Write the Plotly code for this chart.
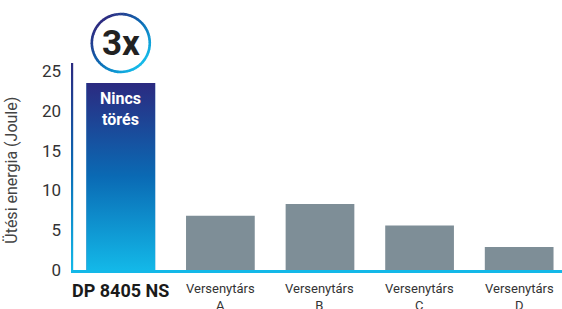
import plotly.graph_objects as go
import math

categories = ["DP 8405 NS", "Versenytárs<br>A", "Versenytárs<br>B", "Versenytárs<br>C", "Versenytárs<br>D"]
values = [23.5, 6.8, 8.3, 5.6, 2.9]
y_ticks = [0, 5, 10, 15, 20, 25]
y_title = "Ütési energia (Joule)"
bar_label = "Nincs<br>törés"
badge_text = "3x"

BAR_W = 0.69
X_RANGE = [-0.5, 4.43]
Y_RANGE = [0, 26]
GRAY = "#7e8e97"
NAVY = "#2b2a80"
MID = "#0a6ab4"
CYAN = "#13b8e8"

xs = list(range(len(categories)))
fig = go.Figure()

fig.add_trace(go.Bar(
    x=xs, y=values, width=BAR_W,
    marker=dict(color=[MID] + [GRAY] * (len(values) - 1), line=dict(width=0)),
    hoverinfo="skip", showlegend=False,
))

# gradient overlay for the highlighted bar
v0 = values[0]
fig.add_trace(go.Scatter(
    x=[xs[0] - BAR_W / 2, xs[0] + BAR_W / 2, xs[0] + BAR_W / 2, xs[0] - BAR_W / 2, xs[0] - BAR_W / 2],
    y=[0, 0, v0, v0, 0],
    mode="lines", line=dict(width=0), fill="toself",
    fillgradient=dict(type="vertical", start=0, stop=v0,
                      colorscale=[[0, CYAN], [0.5, MID], [1, NAVY]]),
    hoverinfo="skip", showlegend=False,
))

# gradient y-axis line
ax_w = 2.2 / 99.5
fig.add_trace(go.Scatter(
    x=[X_RANGE[0], X_RANGE[0] + ax_w, X_RANGE[0] + ax_w, X_RANGE[0], X_RANGE[0]],
    y=[0, 0, Y_RANGE[1], Y_RANGE[1], 0],
    mode="lines", line=dict(width=0), fill="toself",
    fillgradient=dict(type="vertical", start=0, stop=Y_RANGE[1],
                      colorscale=[[0, CYAN], [0.5, MID], [1, NAVY]]),
    hoverinfo="skip", showlegend=False,
))

annotations = []
annotations.append(dict(x=xs[0], y=20.2, xref="x", yref="y", text="<b>" + bar_label + "</b>",
                        showarrow=False, font=dict(family="Roboto", size=16, color="white"),
                        xanchor="center", yanchor="middle"))
for i, c in enumerate(categories):
    if i == 0:
        annotations.append(dict(x=i, y=0, xref="x", yref="paper", text="<b>" + c + "</b>",
                                showarrow=False, font=dict(family="Roboto", size=18, color="#1a1a1a"),
                                xanchor="center", yanchor="top", yshift=-8))
    else:
        annotations.append(dict(x=i, y=0, xref="x", yref="paper", text=c,
                                showarrow=False, font=dict(family="Roboto", size=13, color="#333333"),
                                xanchor="center", yanchor="top", yshift=-9))
annotations.append(dict(x=-0.12, y=0.48, xref="paper", yref="paper", text=y_title, textangle=-90,
                        showarrow=False, font=dict(family="Roboto", size=16, color="#444444"),
                        xanchor="center", yanchor="middle"))
annotations.append(dict(x=xs[0], y=1, xref="x", yref="paper", text="<b>" + badge_text + "</b>",
                        showarrow=False, font=dict(family="Roboto", size=35, color="#222222"),
                        xanchor="center", yanchor="middle", yshift=20))

shapes = []
cx_paper = (xs[0] - X_RANGE[0]) / (X_RANGE[1] - X_RANGE[0])
R = 29
CY = 20
N = 60
def lerp(c1, c2, t):
    a = [int(c1[i:i + 2], 16) for i in (1, 3, 5)]
    b = [int(c2[i:i + 2], 16) for i in (1, 3, 5)]
    return "#%02x%02x%02x" % tuple(round(a[k] + (b[k] - a[k]) * t) for k in range(3))
for k in range(N):
    a0 = 2 * math.pi * k / N
    a1 = 2 * math.pi * (k + 1.15) / N
    am = (a0 + a1) / 2
    t = (math.cos(am) - math.sin(am)) / math.sqrt(2)
    t = (t + 1) / 2
    col = lerp(NAVY, MID, t / 0.5) if t < 0.5 else lerp(MID, CYAN, (t - 0.5) / 0.5)
    p = "M%.2f,%.2fL%.2f,%.2f" % (R * math.cos(a0), CY + R * math.sin(a0),
                                  R * math.cos(a1), CY + R * math.sin(a1))
    shapes.append(dict(type="path", xref="paper", yref="paper", xsizemode="pixel", ysizemode="pixel",
                       xanchor=cx_paper, yanchor=1, path=p,
                       line=dict(color=col, width=2.6)))

fig.update_layout(
    width=562, height=309,
    margin=dict(l=71, r=0, t=63, b=39),
    paper_bgcolor="white", plot_bgcolor="white",
    xaxis=dict(range=X_RANGE, showgrid=False, zeroline=False, showticklabels=False,
               showline=True, linecolor=CYAN, linewidth=3, ticks="", fixedrange=True),
    yaxis=dict(range=Y_RANGE, tickvals=y_ticks, showgrid=False, zeroline=False, showline=False,
               ticks="", ticklabelstandoff=9,
               tickfont=dict(family="Roboto", size=17, color="#333333"), fixedrange=True),
    annotations=annotations,
    shapes=shapes,
)
fig.write_html("out.html", config={"displayModeBar": False},
               post_script="document.body.style.margin='0';document.body.style.overflow='hidden';")
